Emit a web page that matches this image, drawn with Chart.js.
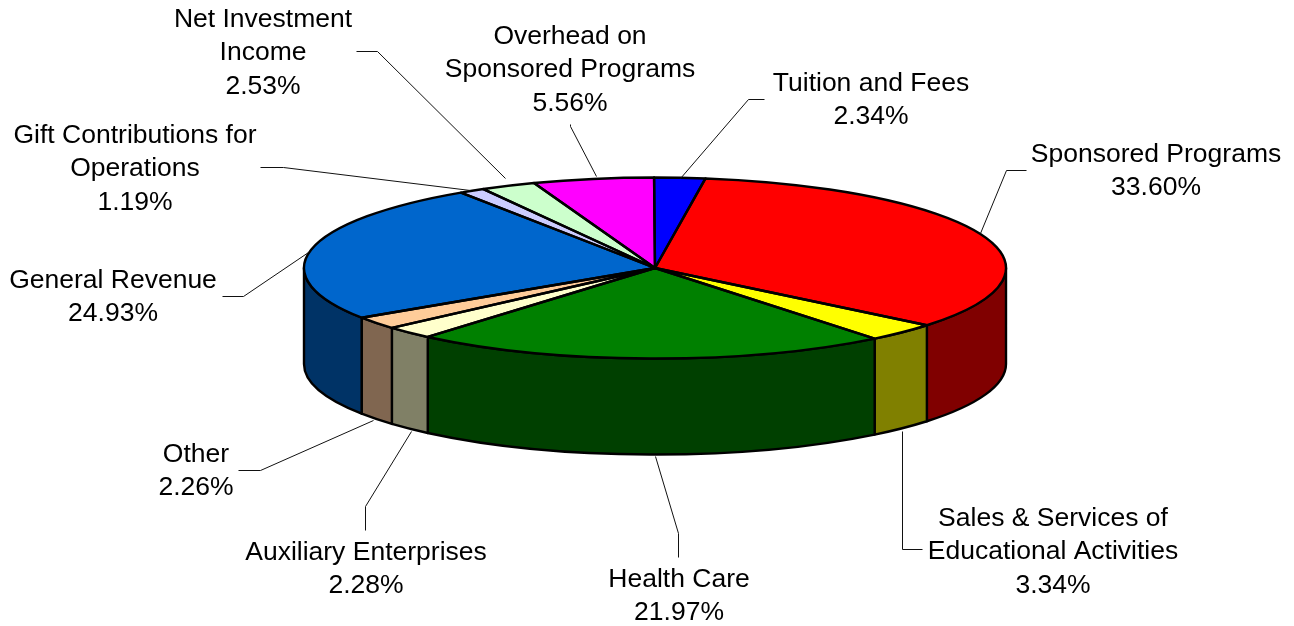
<!DOCTYPE html>
<html lang="en">
<head>
    <meta charset="UTF-8">
    <title>Revenue by source</title>
    <script src="https://cdn.jsdelivr.net/npm/chart.js"></script>
    <style>
        html, body { margin: 0; padding: 0; background: #fff; }
        canvas { display: block; }
    </style>
</head>
<body>
    <canvas id="myChart" width="1294" height="626"></canvas>
    <script>
        // clockwise from 12 o'clock
        const categories = ['Tuition and Fees', 'Sponsored Programs', 'Sales & Services of Educational Activities',
            'Health Care', 'Auxiliary Enterprises', 'Other', 'General Revenue',
            'Gift Contributions for Operations', 'Net Investment Income', 'Overhead on Sponsored Programs'];
        const shares = [2.34, 33.60, 3.34, 21.97, 2.28, 2.26, 24.93, 1.19, 2.53, 5.56];
        const topColors = ['#0000FF', '#FF0000', '#FFFF00', '#008000', '#FFFFCC', '#FFCC99', '#0066CC', '#CCCCFF', '#CCFFCC', '#FF00FF'];
        const sideColors = ['#000080', '#800000', '#808000', '#004000', '#808066', '#806650', '#003366', '#666680', '#668066', '#800080'];

        // how the names wrap on the picture
        const labelLines = [['Tuition and Fees'], ['Sponsored Programs'], ['Sales & Services of', 'Educational Activities'],
            ['Health Care'], ['Auxiliary Enterprises'], ['Other'], ['General Revenue'],
            ['Gift Contributions for', 'Operations'], ['Net Investment', 'Income'], ['Overhead on', 'Sponsored Programs']];
        // centre x, first line y
        const labelPos = [[871, 83.5], [1156, 154.5], [1053, 518.5], [679, 579.5], [366, 552.5], [196, 454.5], [113, 280.5], [135, 135.5], [263, 19.5], [570, 36.5]];
        // leader line: rim end, elbow, end at the label
        const leaders = [
            [[680, 178], [748, 99], [764, 99]],
            [[980, 233], [1006, 170], [1026, 170]],
            [[902, 431], [902, 549], [922, 549]],
            [[655, 456], [678, 533], [678, 557]],
            [[411, 431], [365, 506], [365, 530]],
            [[373, 420], [260, 470], [238, 470]],
            [[308, 252], [243, 296], [222, 296]],
            [[470, 190], [283, 167], [260, 167]],
            [[505, 178], [377, 51], [356, 51]],
            [[596, 176], [570, 126], [570, 124]]
        ];

        const rimX = 351, rimY = 90.5, depth = 96;
        const fontSize = 26.5, lineGap = 33.5;
        const outlineWidth = 2.4;

        const pie3d = {
            id: 'pie3d',
            beforeDatasetsDraw(chart) {
                const ctx = chart.ctx;
                const arcs = chart.getDatasetMeta(0).data;
                const cx = arcs[0].x, cy = arcs[0].y;
                ctx.save();
                ctx.lineWidth = outlineWidth;
                ctx.strokeStyle = '#000';
                ctx.lineJoin = 'round';
                arcs.forEach((arc, i) => {
                    const a = Math.max(arc.startAngle, 0);
                    const b = Math.min(arc.endAngle, Math.PI);
                    if (b <= a) return;
                    ctx.beginPath();
                    ctx.ellipse(cx, cy, rimX, rimY, 0, a, b);
                    ctx.ellipse(cx, cy + depth, rimX, rimY, 0, b, a, true);
                    ctx.closePath();
                    ctx.fillStyle = sideColors[i];
                    ctx.fill();
                    ctx.stroke();
                });
                ctx.restore();
                // the library draws the top face squashed to an ellipse
                ctx.save();
                ctx.translate(cx, cy);
                ctx.scale(rimX / arcs[0].outerRadius, rimY / arcs[0].outerRadius);
                ctx.translate(-cx, -cy);
            },
            afterDatasetsDraw(chart) {
                const ctx = chart.ctx;
                ctx.restore();
                const arcs = chart.getDatasetMeta(0).data;
                const cx = arcs[0].x, cy = arcs[0].y;
                ctx.save();
                ctx.lineWidth = outlineWidth;
                ctx.strokeStyle = '#000';
                ctx.lineJoin = 'round';
                arcs.forEach(arc => {
                    ctx.beginPath();
                    ctx.moveTo(cx, cy);
                    ctx.ellipse(cx, cy, rimX, rimY, 0, arc.startAngle, arc.endAngle);
                    ctx.closePath();
                    ctx.stroke();
                });
                // leaders
                ctx.lineWidth = 1;
                ctx.strokeStyle = '#111';
                leaders.forEach(pts => {
                    ctx.beginPath();
                    pts.forEach((p, k) => k ? ctx.lineTo(p[0] + 0.5, p[1] + 0.5) : ctx.moveTo(p[0] + 0.5, p[1] + 0.5));
                    ctx.stroke();
                });
                // labels
                ctx.fillStyle = '#000';
                ctx.font = fontSize + 'px "Liberation Sans"';
                ctx.textAlign = 'center';
                ctx.textBaseline = 'middle';
                labelLines.forEach((lines, i) => {
                    const all = lines.concat(shares[i].toFixed(2) + '%');
                    all.forEach((t, k) => ctx.fillText(t, labelPos[i][0], labelPos[i][1] + k * lineGap));
                });
                ctx.restore();
            }
        };

        const myChart = new Chart(document.getElementById('myChart').getContext('2d'), {
            type: 'pie',
            data: {
                labels: categories,
                datasets: [{
                    data: shares,
                    backgroundColor: topColors,
                    borderWidth: 0,
                    clip: false
                }]
            },
            options: {
                responsive: false,
                animation: false,
                rotation: -0.15,
                layout: { padding: { left: 16, right: 0, top: 0, bottom: 90 } },
                plugins: { legend: { display: false }, tooltip: { enabled: false } }
            },
            plugins: [pie3d]
        });
    </script>
</body>
</html>
